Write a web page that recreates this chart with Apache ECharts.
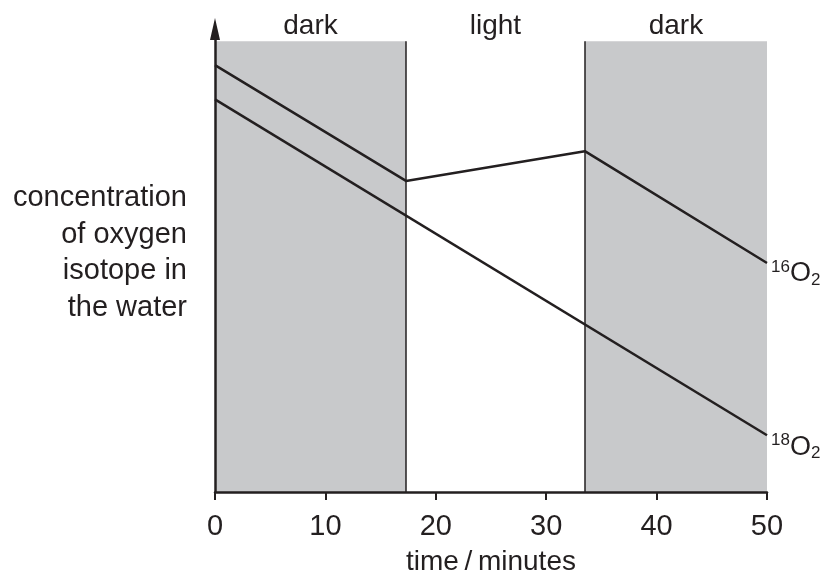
<!DOCTYPE html>
<html>
<head>
<meta charset="utf-8">
<script src="https://cdn.jsdelivr.net/npm/echarts@6/dist/echarts.min.js"></script>
<style>html,body{margin:0;padding:0;background:#fff;}#c{width:827px;height:574px;}</style>
</head>
<body>
<div id="c"></div>
<script>
// Data (y in arbitrary units, 100 = top of shaded band)
const times16 = [0, 17.3, 33.5, 50];
const conc16 = [94.7, 69.0, 75.6, 50.8];
const times18 = [0, 50];
const conc18 = [87.1, 12.6];
const periodNames = ['dark', 'light', 'dark'];
const periodStarts = [0, 17.3, 33.5];
const periodEnds = [17.3, 33.5, 50];
const periodShaded = [true, false, true];
const xTicks = [0, 10, 20, 30, 40, 50];
const yLabelLines = ['concentration', 'of oxygen', 'isotope in', 'the water'];
const bandTop = 100;

const ink = '#231f20';
const font = 'Liberation Sans, Arial, sans-serif';

const chart = echarts.init(document.getElementById('c'));

const markAreaData = periodNames.map((n, i) => [
  { xAxis: periodStarts[i], yAxis: 0, name: n,
    itemStyle: { color: periodShaded[i] ? '#c8c9cb' : 'rgba(0,0,0,0)' } },
  { xAxis: periodEnds[i], yAxis: bandTop }
]);
const boundaries = periodStarts.slice(1);

const richLabel = {
  sup: { fontSize: 17, color: ink, fontFamily: font, verticalAlign: 'top', lineHeight: 30 },
  o: { fontSize: 27, color: ink, fontFamily: font, lineHeight: 30 },
  sub: { fontSize: 17, color: ink, fontFamily: font, verticalAlign: 'bottom', lineHeight: 30 }
};

chart.setOption({
  animation: false,
  backgroundColor: '#fff',
  grid: { left: 215, right: 60, top: 29, bottom: 82, outerBoundsMode: 'none', containLabel: false },
  xAxis: {
    type: 'value', min: 0, max: 50, interval: 10, z: 10,
    name: 'time\u2009/\u2009minutes', nameLocation: 'middle', nameGap: 56,
    nameTextStyle: { fontSize: 28, color: ink, fontFamily: font },
    axisLine: { lineStyle: { color: ink, width: 2.5 } },
    axisTick: { show: true, length: 8, lineStyle: { color: ink, width: 2 } },
    axisLabel: { fontSize: 29, color: ink, fontFamily: font, margin: 20,
      formatter: v => xTicks.includes(v) ? String(v) : '' },
    splitLine: { show: false }
  },
  yAxis: {
    type: 'value', min: 0, max: 102.7, z: 10,
    axisLine: { show: true, symbol: ['none', 'triangle'], symbolSize: [10, 22], symbolOffset: [0, 0],
      lineStyle: { color: ink, width: 2.5 } },
    axisTick: { show: false }, axisLabel: { show: false }, splitLine: { show: false }
  },
  graphic: [{
    type: 'text', right: 827 - 187, top: 180,
    style: { text: yLabelLines.join('\n'), font: '29px ' + font, fill: ink,
      textAlign: 'right', lineHeight: 36.5 }
  }],
  series: [
    {
      type: 'line', name: '16O2', symbol: 'none',
      data: times16.map((t, i) => [t, conc16[i]]),
      lineStyle: { color: ink, width: 2.5 }, z: 5,
      endLabel: { show: true, formatter: '{sup|16}{o|O}{sub|2}', rich: richLabel, distance: 4, offset: [0, 11] },
      markArea: {
        silent: true,
        label: { show: true, position: 'top', distance: 1, fontSize: 28, color: ink, fontFamily: font },
        data: markAreaData
      },
      markLine: {
        silent: true, symbol: 'none', label: { show: false },
        lineStyle: { color: ink, width: 1.5, type: 'solid' },
        data: boundaries.map(b => [{ xAxis: b, yAxis: 0 }, { xAxis: b, yAxis: bandTop }])
      }
    },
    {
      type: 'line', name: '18O2', symbol: 'none',
      data: times18.map((t, i) => [t, conc18[i]]),
      lineStyle: { color: ink, width: 2.5 }, z: 5,
      endLabel: { show: true, formatter: '{sup|18}{o|O}{sub|2}', rich: richLabel, distance: 4, offset: [0, 12] }
    }
  ]
});
</script>
</body>
</html>
